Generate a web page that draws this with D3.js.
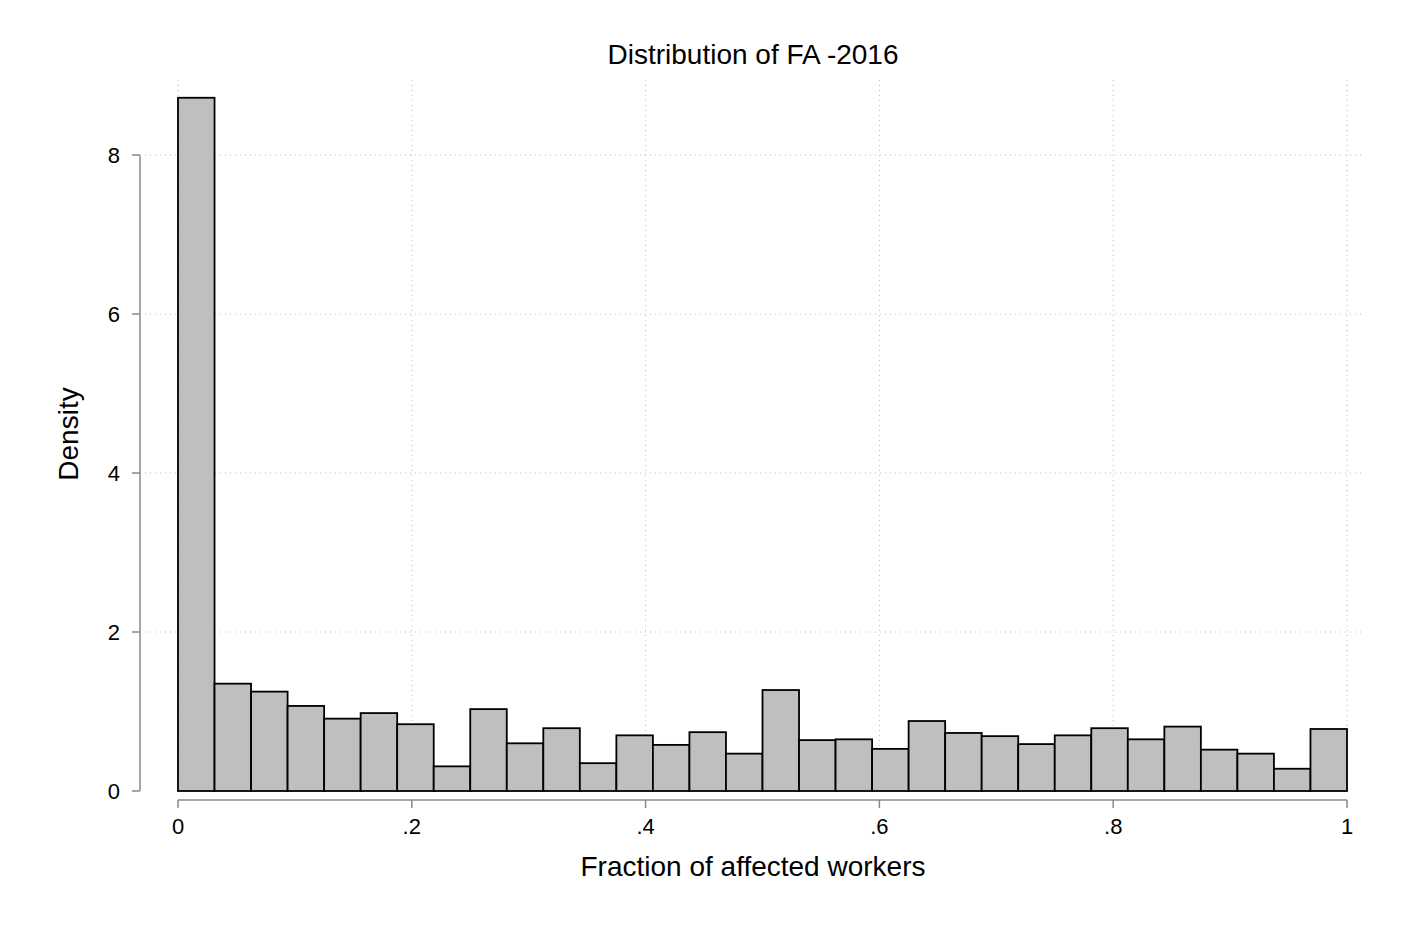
<!DOCTYPE html>
<html><head><meta charset="utf-8">
<script src="https://cdn.jsdelivr.net/npm/d3@7"></script>
<style>body{margin:0;background:#fff}text{font-family:"Liberation Sans",Arial,sans-serif;fill:#000}</style>
</head><body><svg id="c" width="1401" height="934"></svg>
<script>
// histogram densities, 32 equal bins on [0,1]
var densities = [8.72,1.35,1.25,1.07,0.91,0.98,0.84,0.31,1.03,0.60,0.79,0.35,0.70,0.58,0.74,0.47,
                 1.27,0.64,0.65,0.53,0.88,0.73,0.69,0.59,0.70,0.79,0.65,0.81,0.52,0.47,0.28,0.78];
var xTicks = [0,0.2,0.4,0.6,0.8,1];
var xTickLabels = ["0",".2",".4",".6",".8","1"];
var yTicks = [0,2,4,6,8];

var svg = d3.select("#c");
var x = d3.scaleLinear().domain([0,1]).range([178,1347]);
var y = d3.scaleLinear().domain([0,8]).range([791,155]);
var bw = 1/densities.length;

// grid
svg.selectAll(".gy").data(yTicks.slice(1)).enter().append("line")
  .attr("x1",145).attr("x2",1365).attr("y1",d=>y(d)).attr("y2",d=>y(d))
  .attr("stroke","#bbb").attr("stroke-dasharray","1,4");
svg.selectAll(".gx").data(xTicks).enter().append("line")
  .attr("x1",d=>x(d)).attr("x2",d=>x(d)).attr("y1",80).attr("y2",791)
  .attr("stroke","#bbb").attr("stroke-dasharray","1,4");

// bars
svg.selectAll(".bar").data(densities).enter().append("rect")
  .attr("x",(d,i)=>x(i*bw)).attr("width",x(bw)-x(0))
  .attr("y",d=>y(d)).attr("height",d=>y(0)-y(d))
  .attr("fill","#bfbfbf").attr("stroke","#000").attr("stroke-width",1.8);

// y axis
svg.append("line").attr("x1",140).attr("x2",140).attr("y1",y(8)).attr("y2",y(0)).attr("stroke","#888").attr("stroke-width",1.5);
svg.selectAll(".yt").data(yTicks).enter().append("line")
  .attr("x1",132).attr("x2",140).attr("y1",d=>y(d)).attr("y2",d=>y(d)).attr("stroke","#888").attr("stroke-width",1.5);
svg.selectAll(".yl").data(yTicks).enter().append("text")
  .attr("x",120).attr("y",d=>y(d)+8).attr("text-anchor","end").attr("font-size",22).text(d=>d);

// x axis
svg.append("line").attr("x1",x(0)).attr("x2",x(1)).attr("y1",800).attr("y2",800).attr("stroke","#888").attr("stroke-width",1.5);
svg.selectAll(".xt").data(xTicks).enter().append("line")
  .attr("x1",d=>x(d)).attr("x2",d=>x(d)).attr("y1",800).attr("y2",808).attr("stroke","#888").attr("stroke-width",1.5);
svg.selectAll(".xl").data(xTicks).enter().append("text")
  .attr("x",d=>x(d)).attr("y",834).attr("text-anchor","middle").attr("font-size",22).text((d,i)=>xTickLabels[i]);

// titles
svg.append("text").attr("x",753).attr("y",64).attr("text-anchor","middle").attr("font-size",28).text("Distribution of FA -2016");
svg.append("text").attr("x",753).attr("y",876).attr("text-anchor","middle").attr("font-size",28).text("Fraction of affected workers");
svg.append("text").attr("transform","translate(78,434) rotate(-90)").attr("text-anchor","middle").attr("font-size",28).text("Density");
</script></body></html>
